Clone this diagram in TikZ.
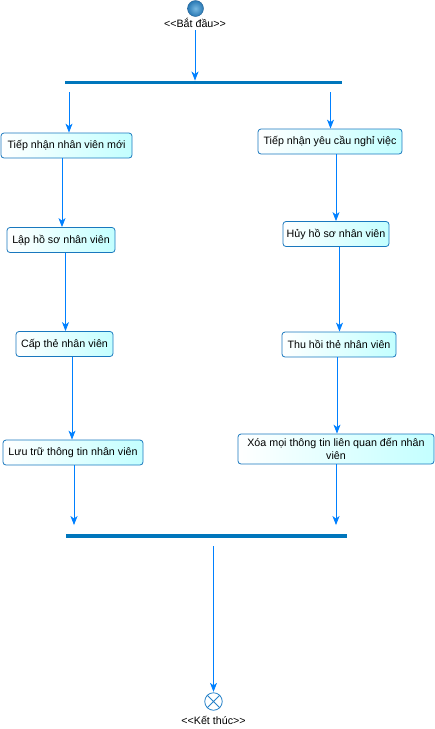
\documentclass[tikz,border=0pt]{standalone}
\usepackage{fontspec}
\setmainfont{Liberation Sans}
\usetikzlibrary{arrows.meta}
\definecolor{boxborder}{RGB}{25,120,190}
\definecolor{actfill}{RGB}{195,255,255}
\definecolor{flowcol}{RGB}{0,128,255}
\definecolor{barcol}{RGB}{0,118,188}
\definecolor{endcol}{RGB}{40,130,200}
\tikzset{
  act/.style={draw=boxborder, line width=0.8pt, rounded corners=3pt,
    left color=white, right color=actfill, inner sep=0pt,
    minimum height=25, align=center, font=\fontsize{10.7}{13}\selectfont},
  syncbar/.style={fill=barcol, inner sep=0pt, minimum height=3.5},
  flow/.style={draw=flowcol, line width=0.9pt,
    -{Stealth[length=9pt,width=7pt,inset=2.5pt]}},
  lbl/.style={inner sep=0pt, font=\fontsize{10.7}{12.5}\selectfont}
}
\begin{document}
\begin{tikzpicture}[x=1pt,y=-1pt]
\useasboundingbox (0,0) rectangle (435,729);

% initial and final states
\node[circle, inner sep=0pt, minimum size=16, draw={rgb,255:red,40;green,100;blue,150},
  inner color={rgb,255:red,120;green,185;blue,225},
  outer color={rgb,255:red,40;green,120;blue,180}] (start) at (195.5,8.5) {};
\node[lbl] (startlbl) at (195,22.5) {<{}<Bắt đầu>{}>};

\node[circle, inner sep=0pt, minimum size=17.5, draw=endcol, line width=0.8pt] (final) at (213.5,701.5) {};
\draw[endcol, line width=0.8pt] (final.north west) -- (final.south east)
  (final.north east) -- (final.south west);
\node[lbl] (finallbl) at (213.5,720.5) {<{}<Kết thúc>{}>};

% fork and join bars
\node[syncbar, minimum width=277] (fork) at (203.5,82.5) {};
\node[syncbar, minimum width=281] (join) at (206.5,536) {};

% left branch
\node[act, minimum width=131] (l1) at (66.5,145.5) {Tiếp nhận nhân viên mới};
\node[act, minimum width=108] (l2) at (61,240) {Lập hồ sơ nhân viên};
\node[act, minimum width=97]  (l3) at (64.5,344) {Cấp thẻ nhân viên};
\node[act, minimum width=140] (l4) at (73,452.5) {Lưu trữ thông tin nhân viên};

% right branch
\node[act, minimum width=144] (r1) at (330,141.5) {Tiếp nhận yêu cầu nghỉ việc};
\node[act, minimum width=106] (r2) at (336,234) {Hủy hồ sơ nhân viên};
\node[act, minimum width=114] (r3) at (339,344.5) {Thu hồi thẻ nhân viên};
\node[act, minimum width=196, minimum height=30] (r4) at (336,449)
  {Xóa mọi thông tin liên quan đến nhân\\viên};

% control flows
\draw[flow, shorten <=3pt] (startlbl.south) -- (fork.north -| startlbl.south);

\draw[flow, shorten <=8pt] (fork.south -| 69,0) -- (l1.north -| 69,0);
\draw[flow] (l1.south -| 62,0) -- (l2.north -| 62,0);
\draw[flow] (l2.south -| 65.5,0) -- (l3.north -| 65.5,0);
\draw[flow] (l3.south -| 72,0) -- (l4.north -| 72,0);
\draw[flow, shorten >=9pt] (l4.south -| 74,0) -- (join.north -| 74,0);

\draw[flow, shorten <=8pt] (fork.south -| 330.5,0) -- (r1.north -| 330.5,0);
\draw[flow] (r1.south -| 336,0) -- (r2.north -| 336,0);
\draw[flow] (r2.south -| 339.5,0) -- (r3.north -| 339.5,0);
\draw[flow] (r3.south -| 337,0) -- (r4.north -| 337,0);
\draw[flow, shorten >=9pt] (r4.south -| 336,0) -- (join.north -| 336,0);

\draw[flow, shorten <=8.5pt, shorten >=0.5pt] (join.south -| final.north) -- (final.north);
\end{tikzpicture}
\end{document}
